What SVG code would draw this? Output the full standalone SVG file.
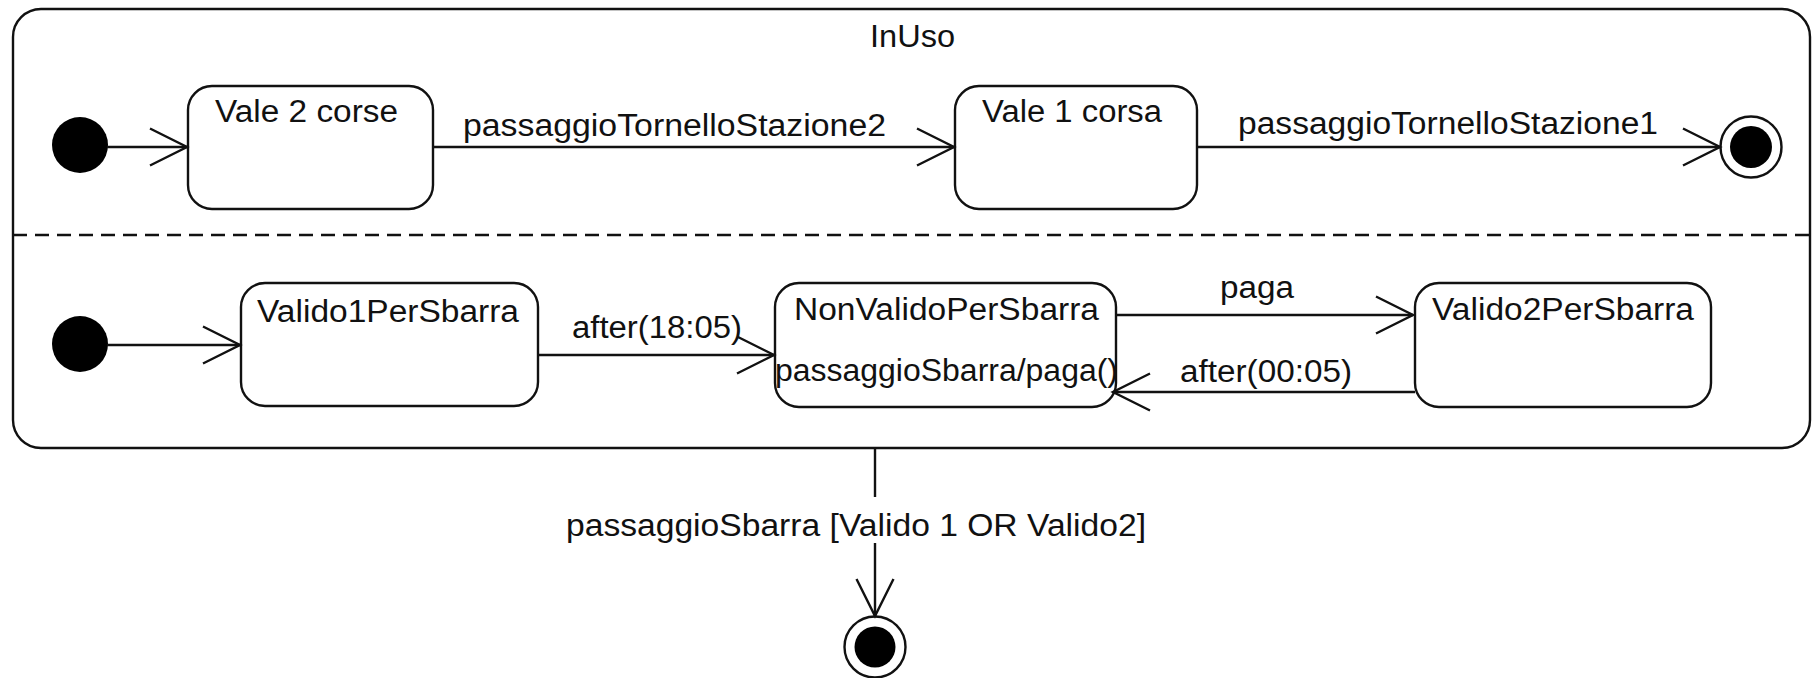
<svg xmlns="http://www.w3.org/2000/svg" width="1814" height="678" viewBox="0 0 1814 678">
<defs>
<marker id="open" markerUnits="userSpaceOnUse" markerWidth="44" markerHeight="44" viewBox="-40 -22 44 44" refX="0" refY="0" orient="auto">
<path d="M-37,-18.5 L0,0 L-37,18.5" fill="none" stroke="#111" stroke-width="2.4"/>
</marker>
<style>
.st{fill:#fff;stroke:#111;stroke-width:2.4}
.ln{fill:none;stroke:#111;stroke-width:2.4}
.t{font-family:"Liberation Sans",Arial,sans-serif;font-size:31px;fill:#111}
.init{fill:#000}
</style>
</defs>
<rect width="1814" height="678" fill="#fff"/>
<g id="InUso">
<rect x="13" y="9" width="1797" height="439" rx="28" ry="28" class="st"/>
<text class="t" x="870" y="47" textLength="85" lengthAdjust="spacingAndGlyphs">InUso</text>
<line x1="13" y1="235" x2="1810" y2="235" stroke="#111" stroke-width="2.4" stroke-dasharray="14,8"/>
</g>
<g id="init1"><circle cx="80" cy="145" r="28" class="init"/></g>
<g id="vale2">
<rect x="188" y="86" width="245" height="123" rx="24" ry="24" class="st"/>
<text class="t" x="215" y="122" textLength="183" lengthAdjust="spacingAndGlyphs">Vale 2 corse</text>
</g>
<g id="vale1">
<rect x="955" y="86" width="242" height="123" rx="24" ry="24" class="st"/>
<text class="t" x="982" y="122" textLength="180" lengthAdjust="spacingAndGlyphs">Vale 1 corsa</text>
</g>
<g id="final1">
<circle cx="1751" cy="147" r="30.5" fill="#fff" stroke="#111" stroke-width="2.4"/>
<circle cx="1751" cy="147" r="21" fill="#000"/>
</g>
<g id="init2"><circle cx="80" cy="344" r="28" class="init"/></g>
<g id="valido1">
<rect x="241" y="283" width="297" height="123" rx="24" ry="24" class="st"/>
<text class="t" x="257" y="322" textLength="262" lengthAdjust="spacingAndGlyphs">Valido1PerSbarra</text>
</g>
<g id="nonValido">
<rect x="775" y="283" width="341" height="124" rx="24" ry="24" class="st"/>
<text class="t" x="794" y="320" textLength="305" lengthAdjust="spacingAndGlyphs">NonValidoPerSbarra</text>
<text class="t" x="775" y="381" textLength="343" lengthAdjust="spacingAndGlyphs">passaggioSbarra/paga()</text>
</g>
<g id="valido2">
<rect x="1415" y="283" width="296" height="124" rx="24" ry="24" class="st"/>
<text class="t" x="1432" y="320" textLength="262" lengthAdjust="spacingAndGlyphs">Valido2PerSbarra</text>
</g>
<g id="final2">
<circle cx="875" cy="647" r="30.5" fill="#fff" stroke="#111" stroke-width="2.4"/>
<circle cx="875" cy="647" r="20.5" fill="#000"/>
</g>
<g id="connectors">
<line x1="107" y1="147" x2="187" y2="147" class="ln" marker-end="url(#open)"/>
<line x1="433" y1="147" x2="954" y2="147" class="ln" marker-end="url(#open)"/>
<text class="t" x="463" y="136" textLength="423" lengthAdjust="spacingAndGlyphs">passaggioTornelloStazione2</text>
<line x1="1197" y1="147" x2="1720" y2="147" class="ln" marker-end="url(#open)"/>
<text class="t" x="1238" y="134" textLength="420" lengthAdjust="spacingAndGlyphs">passaggioTornelloStazione1</text>
<line x1="107" y1="345" x2="240" y2="345" class="ln" marker-end="url(#open)"/>
<line x1="538" y1="355" x2="774" y2="355" class="ln" marker-end="url(#open)"/>
<text class="t" x="572" y="338" textLength="170" lengthAdjust="spacingAndGlyphs">after(18:05)</text>
<line x1="1116" y1="315" x2="1413" y2="315" class="ln" marker-end="url(#open)"/>
<text class="t" x="1220" y="298" textLength="74" lengthAdjust="spacingAndGlyphs">paga</text>
<line x1="1415" y1="392" x2="1113" y2="392" class="ln" marker-end="url(#open)"/>
<text class="t" x="1180" y="382" textLength="172" lengthAdjust="spacingAndGlyphs">after(00:05)</text>
<line x1="875" y1="448" x2="875" y2="497" class="ln"/>
<line x1="875" y1="543" x2="875" y2="616" class="ln" marker-end="url(#open)"/>
<text class="t" x="566" y="536" textLength="580" lengthAdjust="spacingAndGlyphs">passaggioSbarra [Valido 1 OR Valido2]</text>
</g>
</svg>
